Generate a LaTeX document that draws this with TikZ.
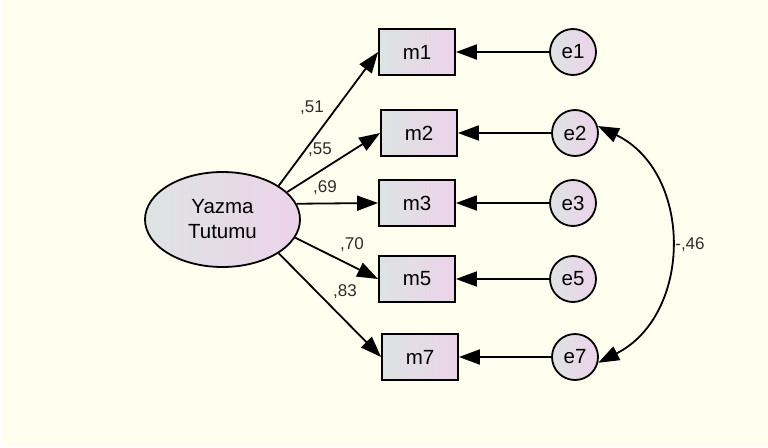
\documentclass[tikz,border=0pt]{standalone}
\usepackage{fontspec}
\setmainfont{Liberation Sans}
\usetikzlibrary{arrows.meta,shapes.geometric}
\definecolor{paper}{RGB}{255,255,240}
\definecolor{shadeL}{RGB}{222,227,227}
\definecolor{shadeR}{RGB}{236,211,234}
\definecolor{coef}{RGB}{45,45,45}
\begin{document}
\begin{tikzpicture}[x=1pt,y=1pt,
  every node/.style={font=\fontsize{20.5}{25}\selectfont},
  obs/.style={draw=black, line width=1.8pt, left color=shadeL, right color=shadeR,
    minimum width=76pt, minimum height=46pt, inner sep=0pt},
  err/.style={circle, draw=black, line width=1.8pt, left color=shadeL, right color=shadeR,
    minimum size=46pt, inner sep=0pt},
  lat/.style={ellipse, draw=black, line width=1.8pt, left color=shadeL, right color=shadeR,
    minimum width=155pt, minimum height=95pt, inner sep=0pt, align=center},
  load/.style={line width=1.8pt, -{Triangle[length=21pt,width=15pt]}},
  cov/.style={line width=1.8pt, {Triangle[length=21pt,width=15pt]}-{Triangle[length=21pt,width=15pt]}},
  coefl/.style={font=\fontsize{17}{20}\selectfont, text=coef, inner sep=0pt}
]
% page
\fill[white] (0,0) rectangle (768,-447);
\fill[paper] (2,0) rectangle (768,-446);
\useasboundingbox (0,0) rectangle (768,-447);

% latent variable
\node[lat] (Y) at (222.5,-219.5) {Yazma\\Tutumu};

% observed items
\node[obs] (m1) at (417,-52) {m1};
\node[obs] (m2) at (419,-133) {m2};
\node[obs] (m3) at (417,-203) {m3};
\node[obs] (m5) at (417,-279) {m5};
\node[obs] (m7) at (420,-357) {m7};

% error terms
\node[err] (e1) at (573,-52) {e1};
\node[err] (e2) at (575,-133) {e2};
\node[err] (e3) at (573,-203) {e3};
\node[err] (e5) at (573,-279) {e5};
\node[err] (e7) at (575,-357) {e7};

% factor loadings
\draw[load] (Y.31) -- (m1.west);
\draw[load] (Y.23) -- (m2.west);
\draw[load] (Y.12) -- (m3.west);
\draw[load] (Y.-14) -- (m5.west);
\draw[load] (Y.-31) -- (m7.west);

\node[coefl] (c1) at (312,-108) {,51};
\node[coefl] (c2) at (320,-150) {,55};
\node[coefl] (c3) at (325,-188) {,69};
\node[coefl] (c5) at (352,-245) {,70};
\node[coefl] (c7) at (345,-292) {,83};

% error paths
\draw[load] (e1) -- (m1);
\draw[load] (e2) -- (m2);
\draw[load] (e3) -- (m3);
\draw[load] (e5) -- (m5);
\draw[load] (e7) -- (m7);

% error covariance
\draw[cov] (e2.17) to[out=-26,in=27,looseness=1.15] (e7.-14);
\node[coefl] (c27) at (690,-245) {-,46};
\end{tikzpicture}
\end{document}
